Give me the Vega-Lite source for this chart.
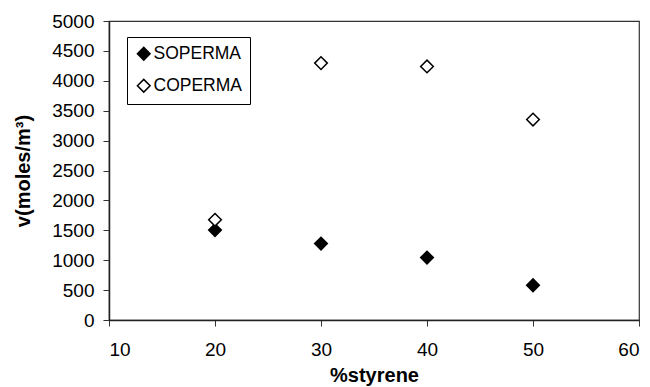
{
  "$schema": "https://vega.github.io/schema/vega-lite/v6.json",
  "autosize": {"type": "none"},
  "padding": {"left": 109, "top": 21, "right": 11, "bottom": 67},
  "width": 530,
  "height": 299,
  "background": "white",
  "config": {
    "font": "Liberation Sans",
    "view": {"stroke": "#333333", "strokeWidth": 1.2},
    "axis": {
      "grid": false,
      "domainColor": "#222222",
      "domainWidth": 1.5,
      "tickColor": "#333333",
      "tickSize": 6,
      "labelColor": "black",
      "labelFontSize": 19,
      "labelFont": "Liberation Sans",
      "titleFont": "Liberation Sans",
      "titleFontSize": 20,
      "titleFontWeight": "bold",
      "titleColor": "black"
    }
  },
  "data": {
    "values": [
      {"styrene": 20, "v": 1503, "series": "SOPERMA"},
      {"styrene": 30, "v": 1279, "series": "SOPERMA"},
      {"styrene": 40, "v": 1044, "series": "SOPERMA"},
      {"styrene": 50, "v": 581, "series": "SOPERMA"},
      {"styrene": 20, "v": 1676, "series": "COPERMA"},
      {"styrene": 30, "v": 4296, "series": "COPERMA"},
      {"styrene": 40, "v": 4240, "series": "COPERMA"},
      {"styrene": 50, "v": 3352, "series": "COPERMA"}
    ]
  },
  "mark": {"type": "point", "shape": "diamond", "filled": false, "stroke": "black", "strokeWidth": 1.5, "size": 160, "opacity": 1},
  "encoding": {
    "x": {
      "field": "styrene", "type": "quantitative",
      "scale": {"domain": [10, 60], "nice": false, "zero": false},
      "axis": {"values": [10, 20, 30, 40, 50, 60], "format": "d", "title": "%styrene", "labelPadding": 14, "titlePadding": 6}
    },
    "y": {
      "field": "v", "type": "quantitative",
      "scale": {"domain": [0, 5000], "nice": false},
      "axis": {"values": [0, 500, 1000, 1500, 2000, 2500, 3000, 3500, 4000, 4500, 5000], "format": "d", "title": "v(moles/m³)", "labelPadding": 9, "titlePadding": 18}
    },
    "fill": {
      "field": "series", "type": "nominal",
      "scale": {"domain": ["SOPERMA", "COPERMA"], "range": ["black", "white"]},
      "legend": {
        "title": null,
        "orient": "none",
        "legendX": 18,
        "legendY": 16,
        "strokeColor": "black",
        "fillColor": "white",
        "padding": 8,
        "rowPadding": 12,
        "symbolType": "diamond",
        "symbolSize": 160,
        "symbolStrokeColor": "black",
        "symbolStrokeWidth": 1.5,
        "labelFontSize": 17.5,
        "labelColor": "black",
        "labelFont": "Liberation Sans",
        "labelOffset": 1
      }
    }
  }
}
